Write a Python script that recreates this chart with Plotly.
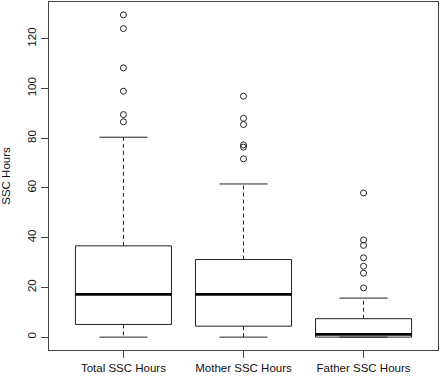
import plotly.graph_objects as go

categories = ["Total SSC Hours", "Mother SSC Hours", "Father SSC Hours"]
lower_whisker = [0.0, 0.0, 0.0]
q1 = [5.1, 4.4, 0.0]
median = [17.2, 17.2, 1.1]
q3 = [36.7, 31.2, 7.4]
upper_whisker = [80.4, 61.6, 15.7]
outliers_total = [86.6, 89.5, 98.9, 108.3, 124.1, 129.6]
outliers_mother = [71.7, 76.4, 77.3, 85.5, 88.0, 96.9]
outliers_father = [19.8, 25.7, 28.5, 31.9, 36.9, 39.1, 58.0]
outliers = [outliers_total, outliers_mother, outliers_father]
y_ticks = [0, 20, 40, 60, 80, 100, 120]

half_box = 0.4
half_cap = 0.2
line_col = "#222222"

positions = list(range(1, len(categories) + 1))

box_x, box_y = [], []
med_x, med_y = [], []
wh_x, wh_y = [], []
cap_x, cap_y = [], []
out_x, out_y = [], []
for i, c in enumerate(positions):
    box_x += [c - half_box, c + half_box, c + half_box, c - half_box, c - half_box, None]
    box_y += [q1[i], q1[i], q3[i], q3[i], q1[i], None]
    med_x += [c - half_box, c + half_box, None]
    med_y += [median[i], median[i], None]
    wh_x += [c, c, None, c, c, None]
    wh_y += [q3[i], upper_whisker[i], None, q1[i], lower_whisker[i], None]
    cap_x += [c - half_cap, c + half_cap, None, c - half_cap, c + half_cap, None]
    cap_y += [upper_whisker[i], upper_whisker[i], None, lower_whisker[i], lower_whisker[i], None]
    out_x += [c] * len(outliers[i])
    out_y += outliers[i]

fig = go.Figure()
fig.add_trace(go.Scatter(x=wh_x, y=wh_y, mode="lines",
                         line=dict(color=line_col, width=1, dash="4px,3px"), hoverinfo="skip"))
fig.add_trace(go.Scatter(x=cap_x, y=cap_y, mode="lines",
                         line=dict(color=line_col, width=1), hoverinfo="skip"))
fig.add_trace(go.Scatter(x=box_x, y=box_y, mode="lines",
                         line=dict(color=line_col, width=1), hoverinfo="skip"))
fig.add_trace(go.Scatter(x=med_x, y=med_y, mode="lines",
                         line=dict(color="#000000", width=2.6), hoverinfo="skip"))
fig.add_trace(go.Scatter(x=out_x, y=out_y, mode="markers",
                         marker=dict(symbol="circle-open", size=6, color=line_col,
                                     line=dict(width=1, color=line_col))))

xmin, xmax = 0.5, len(categories) + 0.5
xpad = (xmax - xmin) * 0.04
ylo, yhi = 0.0, max(max(o) for o in outliers)
ypad = (yhi - ylo) * 0.04

font = dict(family="Liberation Sans, Arial, sans-serif", size=11.5, color="#111111")
fig.update_layout(
    width=440, height=376,
    margin=dict(l=48.5, r=2, t=2, b=26),
    paper_bgcolor="white", plot_bgcolor="white",
    showlegend=False,
    font=font,
    xaxis=dict(range=[xmin - xpad, xmax + xpad], tickvals=positions, ticktext=categories,
               showgrid=False, zeroline=False, showline=True, linecolor="#444444", linewidth=1,
               mirror=True, ticks="outside", ticklen=7, tickcolor="#444444", automargin=False),
    yaxis=dict(range=[ylo - ypad, yhi + ypad], tickvals=y_ticks, tickangle=-90,
               showgrid=False, zeroline=False, showline=True, linecolor="#444444", linewidth=1,
               mirror=True, ticks="outside", ticklen=7, tickcolor="#444444", automargin=False,
               title=dict(text="SSC Hours", standoff=13, font=font)),
)
fig.write_html("out.html", config={"displayModeBar": False},
               post_script="document.body.style.margin='0';")
